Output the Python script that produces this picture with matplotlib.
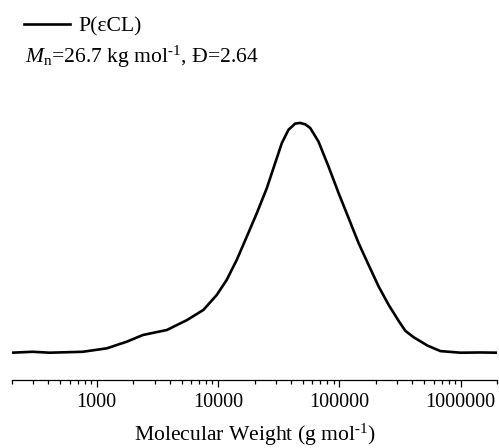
import numpy as np
import matplotlib
matplotlib.use("Agg")
import matplotlib.pyplot as plt
from matplotlib.ticker import LogLocator, NullFormatter, FixedFormatter, FixedLocator

plt.rcParams['font.family'] = ['Liberation Serif', 'DejaVu Serif']
plt.rcParams['mathtext.fontset'] = 'custom'
plt.rcParams['mathtext.rm'] = 'Liberation Serif'
plt.rcParams['mathtext.it'] = 'Liberation Serif:italic'

# Molecular weight (g/mol) and normalized GPC signal
mw = [199, 296, 409, 765, 1210, 1771, 2399, 3791, 5546, 7568, 9756, 11800,
      14280, 17270, 20890, 25260, 29590, 33590, 38100, 43250, 47600, 52400,
      57600, 67400, 81600, 98700, 119400, 144400, 174600, 211300, 255600,
      309300, 351000, 409000, 534000, 683000, 1000000, 1463000, 2024000]
signal = [0.0, 0.004, 0.0, 0.004, 0.019, 0.048, 0.077, 0.099, 0.142, 0.186,
          0.251, 0.317, 0.404, 0.505, 0.607, 0.716, 0.825, 0.912, 0.970, 0.997,
          1.0, 0.994, 0.978, 0.919, 0.810, 0.695, 0.586, 0.477, 0.382, 0.288,
          0.208, 0.138, 0.095, 0.068, 0.031, 0.007, 0.0, 0.001, 0.0]
series_label = "P(εCL)"
annotation = r"$M_{\mathrm{n}}$=26.7 kg mol$^{\text{-1}}$, Đ=2.64"
xlabel = r"Molecular Weight (g mol$^{\text{-1}}$)"
major_ticks = [1000, 10000, 100000, 1000000]
tick_labels = ["1000", "10000", "100000", "1000000"]

W, H = 499, 448
fig = plt.figure(figsize=(W / 100, H / 100), dpi=100)
ax = fig.add_axes([12 / W, (H - 380) / H, (497 - 12) / W, 380 / H])

ax.plot(mw, signal, color='black', lw=1.9, label=series_label,
        solid_joinstyle='round')
ax.set_xscale('log')
ax.set_xlim(200, 2.0e6)
ax.set_ylim(-0.1188, 1.535)

for s in ['top', 'right', 'left']:
    ax.spines[s].set_visible(False)
ax.spines['bottom'].set_linewidth(0.9)
ax.set_yticks([])
ax.xaxis.set_major_locator(FixedLocator(major_ticks))
ax.xaxis.set_major_formatter(FixedFormatter(tick_labels))
ax.xaxis.set_minor_locator(LogLocator(base=10, subs=np.arange(2, 10)))
ax.xaxis.set_minor_formatter(NullFormatter())
ax.tick_params(axis='x', which='major', direction='out', length=5, width=0.9,
               labelsize=14.5, pad=4)
ax.tick_params(axis='x', which='minor', direction='out', length=3, width=0.9)
ax.set_xlabel(xlabel, fontsize=15.6, labelpad=7.5)

leg = ax.legend(loc='upper left', bbox_to_anchor=(27 / W - 0.006, 1 - 16 / H),
                bbox_transform=fig.transFigure, frameon=False, fontsize=15.6,
                handlelength=2.1, handletextpad=0.4, borderaxespad=0, borderpad=0)
fig.text(25 / W, 1 - 57 / H, annotation, fontsize=15.6, va='center', ha='left')

fig.savefig("out.png", dpi=100)
